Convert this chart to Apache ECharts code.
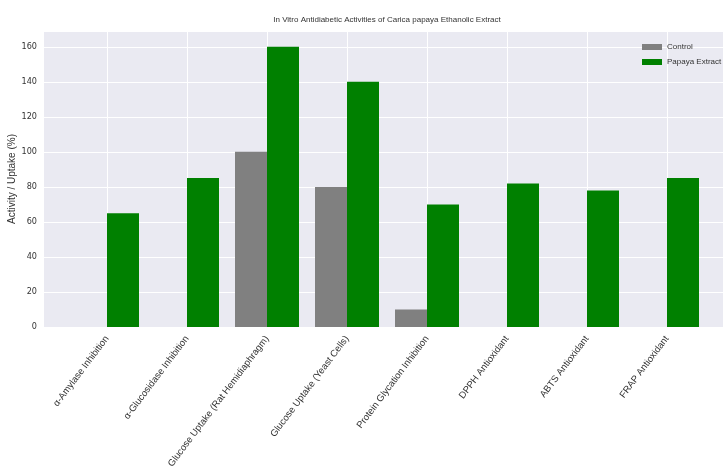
<!DOCTYPE html>
<html><head><meta charset="utf-8">
<script src="https://cdn.jsdelivr.net/npm/echarts@6/dist/echarts.min.js"></script>
<style>html,body{margin:0;padding:0;background:#fff}#c{width:723px;height:475px}</style>
</head><body><div id="c"></div>
<script>
const categories = ['α-Amylase Inhibition', 'α-Glucosidase Inhibition', 'Glucose Uptake (Rat Hemidiaphragm)', 'Glucose Uptake (Yeast Cells)', 'Protein Glycation Inhibition', 'DPPH Antioxidant', 'ABTS Antioxidant', 'FRAP Antioxidant'];
const controlValues = [0, 0, 100, 80, 10, 0, 0, 0];
const papayaValues = [65, 85, 160, 140, 70, 82, 78, 85];
const seriesNames = ['Control', 'Papaya Extract'];
const yTicks = [0, 20, 40, 60, 80, 100, 120, 140, 160];
const yMax = 169;
const chartTitle = 'In Vitro Antidiabetic Activities of Carica papaya Ethanolic Extract';
const yName = 'Activity / Uptake (%)';

const NARROW = "'Liberation Sans Narrow', 'DejaVu Sans Condensed', 'Liberation Sans', sans-serif";
const REG = "'Liberation Sans', 'DejaVu Sans', sans-serif";
const txt = '#333';

const chart = echarts.init(document.getElementById('c'), null, {renderer: 'canvas'});
chart.setOption({
  animation: false,
  backgroundColor: '#fff',
  title: {
    text: chartTitle, left: 387, top: 16, textAlign: 'center', padding: 0,
    textStyle: {fontFamily: REG, fontSize: 8, fontWeight: 'normal', color: txt}
  },
  legend: {
    orient: 'vertical', left: 642, top: 43, padding: 0, itemWidth: 20, itemHeight: 6, itemGap: 7,
    icon: 'rect', data: seriesNames,
    textStyle: {fontFamily: REG, fontSize: 8, color: txt}
  },
  grid: [
    {left: 44, width: 686, top: 31, bottom: 148, show: true, backgroundColor: '#eaeaf2', borderWidth: 0, outerBoundsMode: 'none', containLabel: false},
    {left: 107, width: 560, top: 31, bottom: 148, outerBoundsMode: 'none', containLabel: false}
  ],
  xAxis: [
    {gridIndex: 0, type: 'value', min: 0, max: 1, show: false},
    {gridIndex: 1, type: 'category', data: categories, boundaryGap: false,
     axisLine: {show: false}, axisTick: {show: false},
     splitLine: {show: true, lineStyle: {color: '#fff', width: 1}},
     axisLabel: {interval: 0, rotate: 53, margin: 10, fontFamily: REG, fontSize: 9.5, color: txt}}
  ],
  yAxis: [
    {gridIndex: 0, type: 'value', min: 0, max: yMax, interval: 20,
     name: yName, nameLocation: 'middle', nameGap: 27, nameRotate: 90, nameMoveOverlap: false,
     nameTextStyle: {fontFamily: REG, fontSize: 10, color: txt},
     axisLine: {show: false}, axisTick: {show: false},
     splitLine: {show: true, lineStyle: {color: '#fff', width: 1}},
     axisLabel: {margin: 7, fontFamily: NARROW, fontSize: 9, color: txt,
       formatter: v => yTicks.includes(v) ? String(v) : ''}},
    {gridIndex: 1, type: 'value', min: 0, max: yMax, show: false}
  ],
  series: [
    {name: seriesNames[0], type: 'bar', xAxisIndex: 1, yAxisIndex: 1, data: controlValues,
     barWidth: 32, barGap: '0%', clip: false, itemStyle: {color: '#808080'}},
    {name: seriesNames[1], type: 'bar', xAxisIndex: 1, yAxisIndex: 1, data: papayaValues,
     barWidth: 32, barGap: '0%', clip: false, itemStyle: {color: '#008000'}}
  ]
});
</script></body></html>
